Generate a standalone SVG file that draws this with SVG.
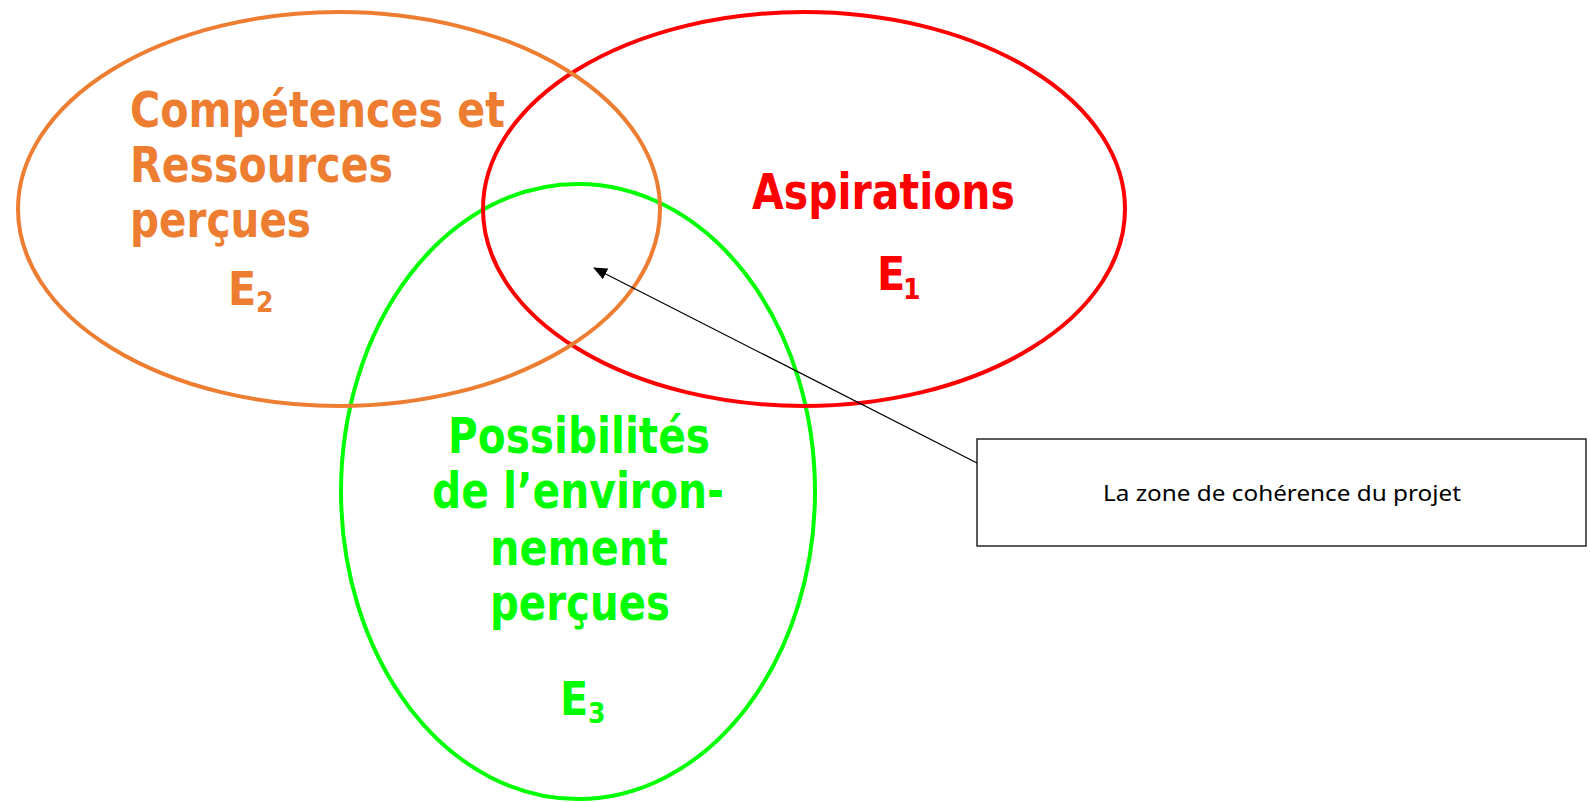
<svg xmlns="http://www.w3.org/2000/svg" width="1590" height="802" viewBox="0 0 1590 802">
<style>
.lbl{font-family:"DejaVu Sans","Liberation Sans",sans-serif;font-weight:bold;font-size:49px}
.e{font-family:"DejaVu Sans Condensed","DejaVu Sans",sans-serif;font-weight:bold;font-size:46px}
.sub{font-size:28px}
.or{fill:#ED7D31}
.rd{fill:#FF0000}
.gr{fill:#00FF00}
.ring{fill:none;stroke-width:4}
.note{font-family:"Noto Sans","Open Sans",sans-serif;font-size:21px;fill:#000}
</style>
<defs>
<marker id="ah" markerWidth="14" markerHeight="12" refX="13" refY="6" orient="auto" markerUnits="userSpaceOnUse">
<path d="M0,0 L14,6 L0,12 z" fill="#000"/>
</marker>
</defs>
<rect width="1590" height="802" fill="#fff"/>
<g id="e3">
<ellipse class="ring" cx="578" cy="491.5" rx="237" ry="307.5" stroke="#00FF00"/>
<text class="lbl gr" x="448" y="453" textLength="262" lengthAdjust="spacingAndGlyphs">Possibilités</text>
<text class="lbl gr" x="432" y="508" textLength="292" lengthAdjust="spacingAndGlyphs">de l’environ-</text>
<text class="lbl gr" x="490" y="565" textLength="178" lengthAdjust="spacingAndGlyphs">nement</text>
<text class="lbl gr" x="490" y="620" textLength="180" lengthAdjust="spacingAndGlyphs">perçues</text>
<text class="e gr" x="560" y="715">E<tspan class="sub" x="588" dy="8">3</tspan></text>
</g>
<g id="e1">
<ellipse class="ring" cx="804" cy="209" rx="321" ry="197" stroke="#FF0000"/>
<text class="lbl rd" x="752" y="209" textLength="263" lengthAdjust="spacingAndGlyphs">Aspirations</text>
<text class="e rd" x="877" y="290">E<tspan class="sub" x="903" dy="9">1</tspan></text>
</g>
<g id="e2">
<ellipse class="ring" cx="339" cy="209" rx="321" ry="197" stroke="#ED7D31"/>
<text class="lbl or" x="130" y="127" textLength="375" lengthAdjust="spacingAndGlyphs">Compétences et</text>
<text class="lbl or" x="130" y="182" textLength="263" lengthAdjust="spacingAndGlyphs">Ressources</text>
<text class="lbl or" x="130" y="237" textLength="181" lengthAdjust="spacingAndGlyphs">perçues</text>
<text class="e or" x="228" y="305">E<tspan class="sub" x="256" dy="7">2</tspan></text>
</g>
<g id="callout">
<rect x="977" y="439" width="609" height="107" fill="#fff" stroke="#262626" stroke-width="1.5"/>
<text class="note" x="1103" y="501" textLength="358" lengthAdjust="spacingAndGlyphs">La zone de cohérence du projet</text>
</g>
<g id="connectors">
<line x1="977" y1="463" x2="594" y2="268" stroke="#000" stroke-width="1.2" marker-end="url(#ah)"/>
</g>
</svg>
